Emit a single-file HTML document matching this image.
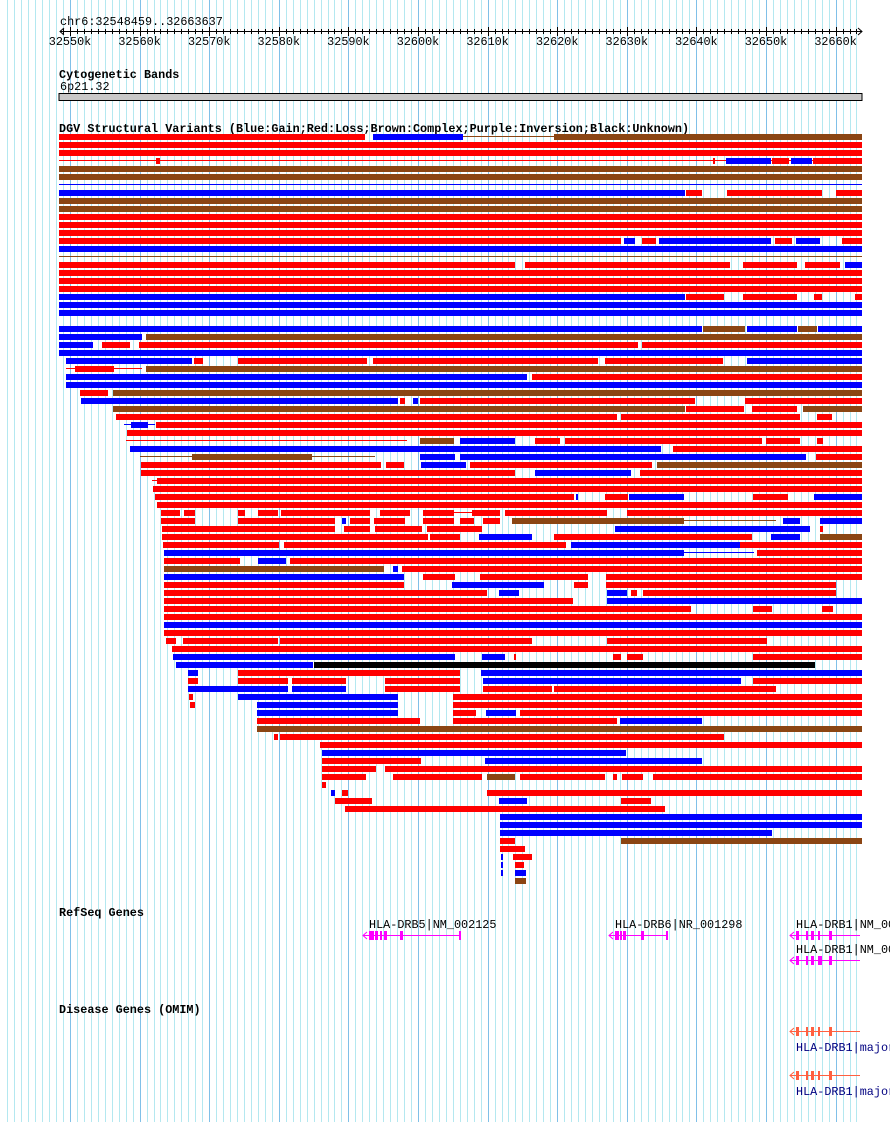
<!DOCTYPE html>
<html><head><meta charset="utf-8"><style>
html,body{margin:0;padding:0;background:#fff;width:890px;height:1122px;overflow:hidden}
svg{display:block}
text{font-family:"Liberation Mono","DejaVu Sans Mono",monospace;font-size:11.8px}
.b{font-weight:bold}
</style></head><body>
<svg id="s" width="890" height="1122" xmlns="http://www.w3.org/2000/svg">
<g id="grid"></g>
<text x="60" y="25">chr6:32548459..32663637</text>
<g id="ruler"></g>
<text x="59" y="78" class="b">Cytogenetic Bands</text>
<text x="60" y="90">6p21.32</text>
<rect x="59" y="93.5" width="803" height="7" fill="#c8c8c8" stroke="#000" stroke-width="1"/>
<text x="59" y="132" class="b">DGV Structural Variants (Blue:Gain;Red:Loss;Brown:Complex;Purple:Inversion;Black:Unknown)</text>
<g id="dgv"></g>
<text x="59" y="916" class="b">RefSeq Genes</text>
<text x="369" y="928">HLA-DRB5|NM_002125</text>
<text x="615" y="928">HLA-DRB6|NR_001298</text>
<text x="796" y="928">HLA-DRB1|NM_002124</text>
<text x="796" y="953">HLA-DRB1|NM_001243965</text>
<text x="59" y="1013" class="b">Disease Genes (OMIM)</text>
<text x="796" y="1051" fill="#000080">HLA-DRB1|major histocompatibility</text>
<text x="796" y="1095" fill="#000080">HLA-DRB1|major histocompatibility</text>
<g id="genes"></g>
</svg>
<script>
var NS="http://www.w3.org/2000/svg";
function el(p,t,a){var e=document.createElementNS(NS,t);for(var k in a)e.setAttribute(k,a[k]);p.appendChild(e);return e;}
var g=document.getElementById('grid');
var sp=6.96,x0=70;
for(var i=-9;i<=113;i++){var x=x0+i*sp;if(x>860)break;
 el(g,'rect',{x:Math.round(x),y:0,width:1,height:1122,fill:(i%10==0)?'#80c0e8':'#b4e8f0'});}
var r=document.getElementById('ruler');
el(r,'rect',{x:60,y:31,width:802,height:1,fill:'#000'});
el(r,'path',{d:'M64 28 L60 31.5 L64 35 M858 28 L862 31.5 L858 35',stroke:'#000',fill:'none'});
for(var i=-1;i<=113;i++){var x=Math.round(x0+i*sp);if(x<60||x>860)continue;
 el(r,'rect',{x:x,y:(i%10==0)?27:29,width:1,height:(i%10==0)?9:5,fill:'#000'});}
for(var k=0;k<=11;k++){var t=el(r,'text',{x:x0+k*sp*10,y:45,'text-anchor':'middle'});t.textContent=(32550+k*10)+'k';}
var C={r:'#ff0000',b:'#0000ff',n:'#8b4513',k:'#000000'};
var rows=[
"r59-365 b373-463 tn463-554 n554-862","r59-862","r59-862","tr59-862 r156-160 r713-715 b726-771 r772-789 b791-812 r813-862",
"n59-862","n59-862","tb59-862","b59-685 r686-702 r727-822 r836-862","n59-862","n59-862","r59-862","r59-862","r59-862",
"r59-621 b624-635 r642-656 b659-771 r775-792 b796-820 r842-862","b59-862","tn59-862",
"r59-515 r525-730 r743-797 r805-840 b845-862","r59-862","r59-862","r59-862",
"b59-685 r686-724 r743-797 r814-822 r855-862","b59-862","b59-862","",
"b59-702 n703-745 b747-797 n798-817 b818-862","b59-142 n146-862","b59-93 r102-130 r139-638 r642-862","b59-862",
"b66-192 r194-203 r238-367 r373-598 r605-723 b747-862","tr66-142 r75-114 n146-862","b66-527 r532-862","b66-862",
"r80-108 n113-862","b81-398 r400-405 b413-418 r420-695 r745-862","n113-685 r686-744 r752-797 n803-862",
"r116-617 r621-800 r817-832","tb124-155 b131-148 r156-862","r127-862",
"tr126-407 n420-454 b460-515 r535-560 r565-762 r766-800 r817-823","b130-661 r673-862",
"tn140-375 n192-312 b420-455 b460-806 r816-862","r141-381 r386-404 b421-466 r470-652 n657-862",
"r141-515 b535-631 r640-862","tr152-862 r157-862","r153-862",
"r155-574 b576-578 r605-628 b629-684 r753-788 b814-862","r157-862",
"r161-180 r184-195 r238-245 r258-278 r281-370 r380-410 r423-454 tr454-485 r472-500 r505-607 r627-862",
"r161-195 r238-335 b342-346 r350-370 r374-405 r423-454 r460-474 r483-500 n512-684 tn684-776 b783-800 b820-862",
"r162-335 r344-370 r375-422 r427-482 b615-810 r820-823","r162-428 r430-460 b479-532 r554-752 b771-800 n820-862",
"r163-279 r284-566 b571-740 r740-862","b164-684 tb684-754 r757-862","r164-240 b258-286 r290-862",
"n164-384 b393-398 r402-862","b164-404 r423-455 r480-588 r606-862","r164-404 b452-544 r574-588 r606-836",
"r164-487 b499-519 b607-627 r631-637 r643-836","r164-573 b607-862","r164-691 r753-772 r822-833",
"r164-862","b164-862","r164-862","r166-176 r183-278 r280-532 r607-767","r172-862",
"b173-455 b482-505 r514-516 r613-621 r627-643 r753-862","b176-313 k314-815","b188-198 r238-460 b481-862",
"r188-198 r238-288 r292-346 r385-460 b483-741 r753-862","b188-288 b292-346 r385-460 r483-552 r554-776",
"r189-193 b238-398 r453-862","r190-195 b257-398 r453-862","b257-398 r453-476 b486-516 r520-862",
"r257-420 r453-617 b620-702","n257-862","r274-278 r280-724","r320-862","b322-626","r322-421 b485-702",
"r322-376 r385-862","r322-366 r393-482 n487-515 r520-605 r613-617 r622-643 r653-862","r322-326",
"b331-335 r342-348 r487-862","r335-372 b499-527 r621-651","r345-665","b500-862","b500-862","b500-772",
"r500-515 n621-862","r500-525","b501-503 r513-532","b501-503 r515-524","b501-503 b515-526","n515-526"];
var d=document.getElementById('dgv');
rows.forEach(function(s,i){var y=134+8*i;if(!s)return;
 s.split(' ').forEach(function(seg){var thin=seg[0]=='t';if(thin)seg=seg.slice(1);
  var c=C[seg[0]];var p=seg.slice(1).split('-');var a=+p[0],b=+p[1];
  if(thin)el(d,'rect',{x:a,y:y+2,width:b-a,height:1,fill:c});
  else el(d,'rect',{x:a,y:y,width:Math.max(1,b-a),height:6,fill:c});});});
var G=document.getElementById('genes');
function gene(x1,x2,y,col,ex){el(G,'rect',{x:x1,y:y+4,width:x2-x1,height:1,fill:col});
 el(G,'path',{d:'M'+(x1+4)+' '+(y+1)+' L'+x1+' '+(y+4.5)+' L'+(x1+4)+' '+(y+8),stroke:col,fill:'none'});
 ex.forEach(function(e){el(G,'rect',{x:e[0],y:y,width:e[1],height:9,fill:col});});}
gene(363,461,931,'#ff00ff',[[369,5],[375,3],[380,2],[384,3],[400,3],[459,2]]);
gene(609,668,931,'#ff00ff',[[615,4],[620,2],[623,3],[641,3],[666,2]]);
gene(790,860,931,'#ff00ff',[[796,3],[806,2],[811,3],[818,2],[829,3]]);
gene(790,860,956,'#ff00ff',[[796,3],[806,2],[811,3],[818,2],[820,2],[829,3]]);
gene(790,860,1027,'#ff6040',[[796,3],[806,2],[811,3],[818,2],[829,3]]);
gene(790,860,1071,'#ff6040',[[796,3],[806,2],[811,3],[818,2],[829,3]]);
</script>
</body></html>
